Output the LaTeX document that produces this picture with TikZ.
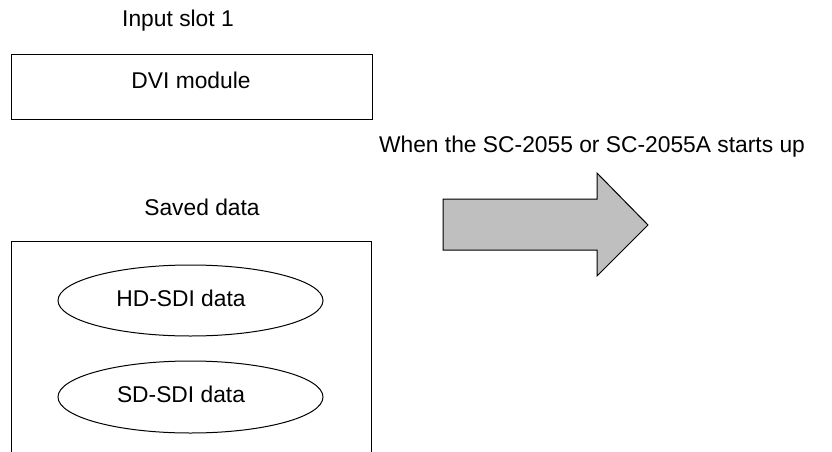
\documentclass[tikz,border=0pt]{standalone}
\usepackage{fontspec}
\setmainfont{Liberation Sans}
\usetikzlibrary{shapes.geometric}
\begin{document}
\begin{tikzpicture}[x=1pt,y=-1pt,
  lbl/.style={inner sep=0pt,font=\fontsize{22.8}{26}\selectfont},
  boxrect/.style={draw,line width=1pt,rectangle,inner sep=0pt},
  dataell/.style={draw,line width=1pt,ellipse,inner sep=0pt},
  bigarrow/.style={draw,line width=1pt,fill=black!25,line join=miter}]
\useasboundingbox (0,0) rectangle (832,452);
\clip (0,0) rectangle (832,452);
\node[lbl] (slot) at (178,21) {Input slot 1};
\node[boxrect,minimum width=361pt,minimum height=64pt] (dvi) at (191.5,87) {};
\node[lbl] (dvit) at (191,80) {DVI module};
\node[lbl] (when) at (592,147) {When the SC-2055 or SC-2055A starts up};
\node[lbl] (saved) at (202,207) {Saved data};
\node[boxrect,minimum width=360pt,minimum height=240pt] (store) at (191,361) {};
\node[dataell,minimum width=265pt,minimum height=71pt] (hd) at (190.5,300.5) {};
\node[lbl] (hdt) at (181,298) {HD-SDI data};
\node[dataell,minimum width=265pt,minimum height=72pt] (sd) at (190.5,397) {};
\node[lbl] (sdt) at (181,394) {SD-SDI data};
\draw[bigarrow] (443,199) -- (597,199) -- (597,173) -- (648,225) -- (597,276) -- (597,250) -- (443,250) -- cycle;
\end{tikzpicture}
\end{document}
